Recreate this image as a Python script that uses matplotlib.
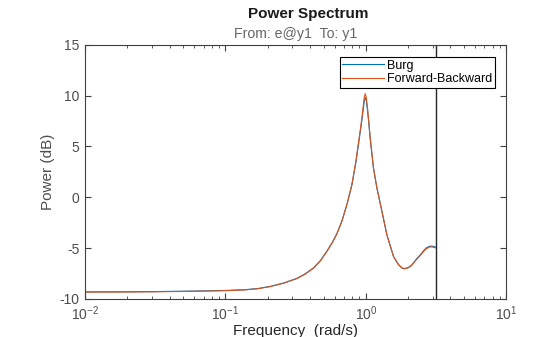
import matplotlib.pyplot as plt
import numpy as np

plt.rcParams['font.family'] = ['Liberation Sans', 'DejaVu Sans']
plt.rcParams['axes.unicode_minus'] = False

# spectrum estimates (frequency in rad/s, power in dB)
freq = [0.01, 0.02, 0.03, 0.06, 0.1, 0.138, 0.17, 0.208, 0.26, 0.3226, 0.37,
        0.424, 0.475, 0.527, 0.575, 0.622, 0.675, 0.7325, 0.7953, 0.8492,
        0.8963, 0.9371, 0.973, 0.989, 1.005, 1.027, 1.05, 1.074, 1.133,
        1.198, 1.3006, 1.412, 1.574, 1.7, 1.8, 1.876, 2.0, 2.1, 2.184,
        2.3, 2.45, 2.575, 2.7, 2.873, 3.0, 3.1416]
power_fb = [-9.33, -9.32, -9.30, -9.25, -9.19, -9.11, -9.0, -8.79, -8.45,
            -8.0, -7.56, -6.97, -6.25, -5.34, -4.5, -3.6, -2.35, -0.72,
            1.25, 3.55, 5.85, 7.81, 9.78, 10.2, 9.9, 8.8, 7.4, 5.85, 2.89,
            0.93, -1.37, -3.7, -5.84, -6.6, -6.95, -7.05, -6.95, -6.75,
            -6.49, -6.1, -5.7, -5.34, -5.05, -4.88, -4.9, -4.98]
power_burg = [-9.31, -9.30, -9.28, -9.23, -9.17, -9.09, -8.98, -8.77, -8.43,
              -7.98, -7.53, -6.94, -6.22, -5.31, -4.47, -3.57, -2.33, -0.72,
              1.22, 3.45, 5.7, 7.6, 9.45, 9.8, 9.6, 8.6, 7.25, 5.75, 2.85,
              0.92, -1.37, -3.7, -5.82, -6.58, -6.93, -7.02, -6.92, -6.72,
              -6.45, -6.05, -5.64, -5.27, -4.97, -4.8, -4.82, -4.9]
nyquist = np.pi

fig = plt.figure(figsize=(5.6, 3.37), dpi=100)
ax = fig.add_axes([0.152, 0.113, 0.752, 0.754])

ax.semilogx(freq, power_burg, color='#0072BD', lw=0.8, label='Burg')
ax.semilogx(freq, power_fb, color='#D95319', lw=0.8, label='Forward-Backward')
ax.axvline(nyquist, color='#262626', lw=1.0)

ax.set_xlim(1e-2, 1e1)
ax.set_ylim(-10, 15)
ax.set_yticks([-10, -5, 0, 5, 10, 15])

spine_col = '#404040'
for s in ax.spines.values():
    s.set_color(spine_col)
    s.set_linewidth(0.8)
ax.tick_params(which='both', direction='in', top=True, right=True,
               colors=spine_col, labelcolor='#4d4d4d', labelsize=10)
ax.tick_params(which='major', length=4, pad=4)
ax.tick_params(which='minor', length=2.2)

ax.set_xlabel('Frequency  (rad/s)', fontsize=11, color='#262626', labelpad=1)
ax.set_ylabel('Power (dB)', fontsize=11, color='#4d4d4d', labelpad=3)

fig.text(308 / 560, 1 - 14 / 337, 'Power Spectrum', ha='center', va='center',
         fontsize=11, fontweight='bold', color='#1a1a1a')
fig.text(296 / 560, 1 - 34 / 337, 'From: e@y1  To: y1', ha='center',
         va='center', fontsize=10.2, color='#666666')

leg = ax.legend(loc='upper right', bbox_to_anchor=(0.974, 0.953), fontsize=9,
                frameon=True, fancybox=False, framealpha=1, borderpad=0.22,
                handlelength=3.3, handletextpad=0.3, labelspacing=0.12,
                borderaxespad=0)
leg.get_frame().set_edgecolor('black')
leg.get_frame().set_linewidth(0.8)

fig.savefig('out.png', dpi=100)
